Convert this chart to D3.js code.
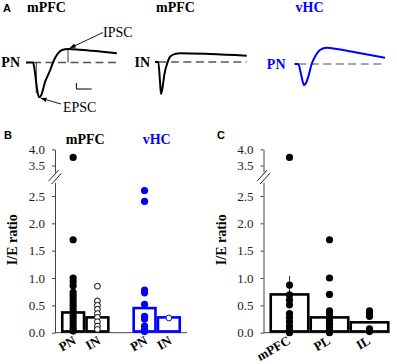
<!DOCTYPE html>
<html>
<head>
<meta charset="utf-8">
<script src="https://cdn.jsdelivr.net/npm/d3@7"></script>
<style>
  body { margin: 0; background: #fff; }
  svg { display: block; }
  text { font-family: "Liberation Serif", "Times New Roman", serif; }
  .letter { font-family: "Liberation Sans", Arial, sans-serif; font-weight: bold; font-size: 11px; }
</style>
</head>
<body>
<svg id="fig" width="397" height="364"></svg>
<script>
// ---- panel A traces: [time ms, current pA], baseline = 0
const pnTrace = [[0, 0], [7.8, 0], [10, -10], [12.2, -26], [14.4, -34.7], [16.7, -33], [21.1, -19.7], [26.7, -8],
  [30, 0], [34.4, 7.7], [40, 12.5], [46.7, 13.5], [60, 12.8], [82.2, 11], [101, 9.3]]
const inTrace = [[0, 0], [3.7, 0], [5.6, -20], [6.7, -32], [8.3, -26], [10.3, -13], [14.1, 0], [16.7, 5.3],
  [22.2, 8], [27.8, 8.8], [61.1, 8], [101.9, 6.3]]
const vhcTrace = [[0, 0], [4.2, 0], [7.2, -10], [10.6, -21], [12.8, -19], [15.3, -12.7], [19.1, 0], [22.8, 7.3],
  [28.3, 14], [35.8, 16.3], [48.7, 14.7], [67.2, 11.7], [100.6, 6.3]]

// ---- panel B: I/E ratio by region and cell type
const bGroups = ['mPFC', 'vHC']
const bCells = ['PN', 'IN']
const bMeans = [[0.37, 0.28], [0.45, 0.28]]
const mpfcPN = [3.75, 1.7, 1.0, 0.93, 0.86, 0.74, 0.68, 0.62, 0.56, 0.5, 0.44, 0.38, 0.32, 0.26, 0.2, 0.14, 0.08, 0.03]
const mpfcIN = [0.85, 0.58, 0.5, 0.43, 0.35, 0.28, 0.2, 0.12, 0.06]
const vhcPN = [2.6, 2.4, 0.78, 0.73, 0.52, 0.3, 0.25, 0.12, 0.06, 0.02]
const vhcIN = [0.27]

// ---- panel C: PN I/E ratio by subregion
const cRegions = ['mPFC', 'PL', 'IL']
const cMeans = [0.70, 0.28, 0.19]
const cErr = [0.34, 0, 0]
const cMpfc = [3.75, 0.87, 0.69, 0.6, 0.51, 0.35, 0.28, 0.2, 0.12, 0.05, 0.0]
const cPL = [1.7, 1.0, 0.7, 0.4, 0.34, 0.28, 0.22, 0.16, 0.1, 0.04, 0.0]
const cIL = [0.4, 0.35, 0.3, 0.07, 0.02]

const yTicksLow = [0, 0.5, 1, 1.5, 2, 2.5]
const yTicksHigh = [3.5, 4]

const BLUE = '#0000ff'
const svg = d3.select('#fig')

// ================= A =================
svg.append('text').attr('class', 'letter').attr('x', 3).attr('y', 12).text('A')

const tx = d3.scaleLinear().domain([0, 100]).range([0, 90])
const ty = d3.scaleLinear().domain([-40, 20]).range([40, -20])
const traceLine = d3.line().x(d => tx(d[0])).y(d => ty(d[1])).curve(d3.curveMonotoneX)

const traces = [
  {title: 'mPFC', label: 'PN', data: pnTrace, color: '#000', dash: '#555', x: 26, y: 62.5, gap: 6},
  {title: 'mPFC', label: 'IN', data: inTrace, color: '#000', dash: '#555', x: 155, y: 62, gap: 5},
  {title: 'vHC', label: 'PN', data: vhcTrace, color: BLUE, dash: '#888', x: 294.5, y: 64, gap: 9}
]

traces.forEach(t => {
  const g = svg.append('g').attr('transform', `translate(${t.x},${t.y})`)
  const tEnd = t.data[t.data.length - 1][0]
  g.append('line')
    .attr('x1', tx(t.data[1][0])).attr('x2', tx(tEnd))
    .attr('y1', ty(0)).attr('y2', ty(0))
    .attr('stroke', t.dash).attr('stroke-width', 1.6).attr('stroke-dasharray', '8,4.5')
  g.append('path').attr('d', traceLine(t.data))
    .attr('fill', 'none').attr('stroke', t.color).attr('stroke-width', 2)
    .attr('stroke-linejoin', 'round')
  g.append('text').attr('x', -t.gap).attr('y', ty(0) + 4.6)
    .attr('text-anchor', 'end').attr('font-weight', 'bold').attr('font-size', 14)
    .attr('fill', t.color).text(t.label)
  svg.append('text').attr('x', t.x + 1).attr('y', 12)
    .attr('font-weight', 'bold').attr('font-size', 14)
    .attr('fill', t.color).text(t.title)
})

// annotations on the PN trace
{
  const t = traces[0]
  const g = svg.append('g').attr('transform', `translate(${t.x},${t.y})`)
  const epsc = pnTrace.reduce((a, b) => (b[1] < a[1] ? b : a))
  const ipsc = pnTrace.reduce((a, b) => (b[1] > a[1] ? b : a))
  g.append('line').attr('x1', tx(epsc[0] - 3)).attr('x2', tx(epsc[0] - 3))
    .attr('y1', ty(0)).attr('y2', ty(epsc[1] + 4)).attr('stroke', '#000').attr('stroke-width', 0.8)
  g.append('line').attr('x1', tx(ipsc[0])).attr('x2', tx(ipsc[0]))
    .attr('y1', ty(0)).attr('y2', ty(ipsc[1])).attr('stroke', '#000').attr('stroke-width', 0.8)

  svg.append('defs').append('marker').attr('id', 'arrow')
    .attr('viewBox', '0 0 10 10').attr('refX', 9).attr('refY', 5)
    .attr('markerWidth', 7).attr('markerHeight', 7).attr('orient', 'auto')
    .append('path').attr('d', 'M0,1.5L10,5L0,8.5Z').attr('fill', '#000')

  g.append('line').attr('x1', 77).attr('y1', -30)
    .attr('x2', tx(ipsc[0]) + 2).attr('y2', ty(ipsc[1]) - 1)
    .attr('stroke', '#000').attr('stroke-width', 0.9).attr('marker-end', 'url(#arrow)')
  g.append('text').attr('x', 77).attr('y', -26).attr('font-size', 14).text('IPSC')

  g.append('line').attr('x1', 35).attr('y1', 41.5)
    .attr('x2', tx(epsc[0]) + 2).attr('y2', ty(epsc[1]) + 1)
    .attr('stroke', '#000').attr('stroke-width', 0.9).attr('marker-end', 'url(#arrow)')
  g.append('text').attr('x', 37).attr('y', 49.5).attr('font-size', 14).text('EPSC')

  // scale bar (L shape)
  const sb = g.append('g').attr('transform', `translate(${tx(56)},${ty(-26.5)})`)
  sb.append('path').attr('d', `M0,${ty(6) - ty(0)}V0H${tx(17)}`)
    .attr('fill', 'none').attr('stroke', '#000').attr('stroke-width', 1)
}

// ================= shared y scales (broken axis) =================
const yLow = d3.scaleLinear().domain([0, 2.75]).range([332.7, 182.3])
const yHigh = d3.scaleLinear().domain([3.3, 4.0]).range([172, 149.3])
const yv = v => (v > 3 ? yHigh(v) : yLow(v))

function drawYAxis(x) {
  const fmt = d3.format('.1f')
  const style = g => {
    g.select('.domain').attr('stroke', '#444')
    g.selectAll('.tick line').attr('stroke', '#444')
    g.selectAll('.tick text').attr('font-size', 13).attr('fill', '#222')
      .attr('font-family', '"Liberation Serif", serif')
  }
  svg.append('g').attr('transform', `translate(${x},0)`)
    .call(d3.axisLeft(yLow).tickValues(yTicksLow).tickFormat(fmt).tickSize(3).tickSizeOuter(0).tickPadding(7))
    .call(style)
  svg.append('g').attr('transform', `translate(${x},0)`)
    .call(d3.axisLeft(yHigh).tickValues(yTicksHigh).tickFormat(fmt).tickSize(3).tickSizeOuter(0).tickPadding(7))
    .call(style)
  // break marks
  const mid = (yLow.range()[1] + yHigh.range()[0]) / 2
  ;[-1.5, 1.5].forEach(o => {
    svg.append('line')
      .attr('x1', x - 5 + o).attr('y1', mid + 5.5 + o)
      .attr('x2', x + 5 + o).attr('y2', mid - 5.5 + o)
      .attr('stroke', '#222').attr('stroke-width', 1)
  })
  svg.append('text')
    .attr('transform', `translate(${x - 38},${yLow(1.7)}) rotate(-90)`)
    .attr('text-anchor', 'middle').attr('font-weight', 'bold').attr('font-size', 14)
    .text('I/E ratio')
}

function xLabel(x, text) {
  svg.append('text')
    .attr('transform', `translate(${x},${yLow(0) + 2}) rotate(-30)`)
    .attr('text-anchor', 'end').attr('dy', '0.75em')
    .attr('font-weight', 'bold').attr('font-size', 13).text(text)
}

function dots(x, values, color, open) {
  svg.append('g').selectAll('circle').data(values).join('circle')
    .attr('cx', x).attr('cy', d => yv(d))
    .attr('r', open ? 2.9 : 3.6)
    .attr('fill', open ? '#fff' : color)
    .attr('stroke', open ? color : 'none').attr('stroke-width', 1)
}

// ================= B =================
{
  const axisX = 55
  svg.append('text').attr('class', 'letter').attr('x', 4).attr('y', 138.5).text('B')
  drawYAxis(axisX)

  const xg = d3.scaleBand().domain(bGroups).range([61, 181]).paddingInner(0.32)
  const xc = d3.scaleBand().domain(bCells).range([0, xg.bandwidth()])
  const colors = [ '#000', BLUE ]
  const points = [[mpfcPN, mpfcIN], [vhcPN, vhcIN]]

  svg.append('line').attr('x1', axisX).attr('x2', 187)
    .attr('y1', yLow(0)).attr('y2', yLow(0)).attr('stroke', '#444')

  bGroups.forEach((grp, gi) => {
    svg.append('text').attr('x', xg(grp) + xg.bandwidth() / 2).attr('y', 144)
      .attr('text-anchor', 'middle').attr('font-weight', 'bold').attr('font-size', 14)
      .attr('fill', colors[gi]).text(grp)
    svg.append('g').selectAll('rect').data(bMeans[gi]).join('rect')
      .attr('x', (d, i) => xg(grp) + xc(bCells[i]) + 1.25)
      .attr('width', xc.bandwidth() - 2.5)
      .attr('y', d => yLow(d))
      .attr('height', d => yLow(0) - yLow(d) - 1.25)
      .attr('fill', '#fff').attr('stroke', colors[gi]).attr('stroke-width', 2.6)
    bCells.forEach((c, ci) => {
      const cx = xg(grp) + xc(c) + xc.bandwidth() / 2
      dots(cx, points[gi][ci], colors[gi], c === 'IN')
      xLabel(cx - 1, c)
    })
  })
}

// ================= C =================
{
  const axisX = 263.5
  svg.append('text').attr('class', 'letter').attr('x', 217).attr('y', 138.5).text('C')
  drawYAxis(axisX)

  const x = d3.scaleBand().domain(cRegions).range([269.5, 389.5])
  const points = [cMpfc, cPL, cIL]

  svg.append('line').attr('x1', axisX).attr('x2', 389.5)
    .attr('y1', yLow(0)).attr('y2', yLow(0)).attr('stroke', '#444')

  svg.append('g').selectAll('line').data(cMeans).join('line')
    .attr('x1', (d, i) => x(cRegions[i]) + x.bandwidth() / 2)
    .attr('x2', (d, i) => x(cRegions[i]) + x.bandwidth() / 2)
    .attr('y1', d => yLow(d))
    .attr('y2', (d, i) => yLow(d + cErr[i]))
    .attr('stroke', '#333').attr('stroke-width', 1)

  svg.append('g').selectAll('rect').data(cMeans).join('rect')
    .attr('x', (d, i) => x(cRegions[i]) + 1.25)
    .attr('width', x.bandwidth() - 2.5)
    .attr('y', d => yLow(d))
    .attr('height', d => yLow(0) - yLow(d) - 1.25)
    .attr('fill', 'none').attr('stroke', '#000').attr('stroke-width', 2.6)

  cRegions.forEach((r, i) => {
    const cx = x(r) + x.bandwidth() / 2
    dots(cx, points[i], '#000', false)
    xLabel(cx - 3, r)
  })
}
</script>
</body>
</html>
